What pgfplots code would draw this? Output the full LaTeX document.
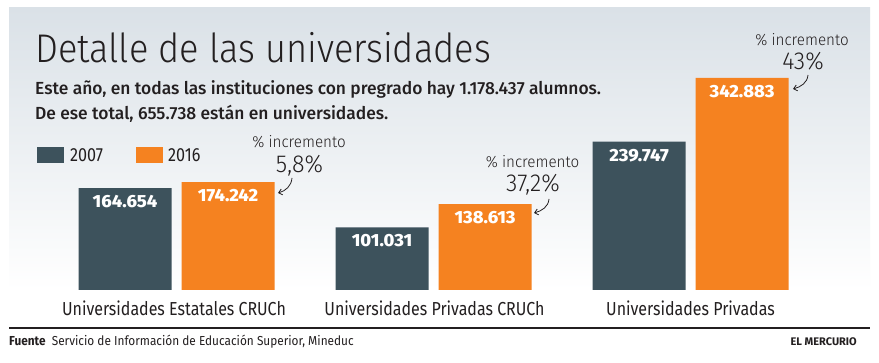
\documentclass[border=0pt]{standalone}
\usepackage{pgfplots}
\pgfplotsset{compat=1.18}
\usetikzlibrary{arrows.meta}
\usepackage{fontspec}
\setmainfont{Fira Sans}
\newfontfamily\fTitle{Fira Sans Light}[FakeStretch=0.905]
\newfontfamily\fLight{Fira Sans Light}[FakeStretch=0.95]
\newfontfamily\fSub{Fira Sans Medium}[FakeStretch=0.995]
\newfontfamily\fReg{Fira Sans}[FakeStretch=0.85]
\newfontfamily\fBold{Fira Sans ExtraBold}[FakeStretch=1.04]
\newfontfamily\fFoot{Fira Sans}[FakeStretch=0.91]
\newfontfamily\fFootB{Fira Sans}[FakeStretch=1.0]
\definecolor{slate}{HTML}{3D525C}
\definecolor{orng}{HTML}{F58220}
\definecolor{ink}{HTML}{231F20}
\definecolor{bgtop}{HTML}{DAE1E7}
\begin{document}
\begin{tikzpicture}[x=1pt,y=1pt]
\useasboundingbox (0,0) rectangle (879,363);
\fill[white] (0,0) rectangle (879,363);
\shade[top color=bgtop, bottom color=white] (9,73) rectangle (870,355);
\begin{axis}[
  at={(9pt,73pt)}, anchor=south west,
  scale only axis, width=861pt, height=282pt,
  xmin=-0.6518, xmax=2.698, ymin=0, ymax=455600,
  axis lines=none, ybar, bar width=0.3619,
  point meta=explicit symbolic,
  nodes near coords,
  every node near coord/.append style={anchor=base, yshift=-19.5pt, inner sep=0pt,
     text=white, font=\fBold\fontsize{17.6}{17.6}\selectfont},
  clip=false,
]
\addplot[fill=slate, draw=none, bar shift=-0.2004] coordinates {
  (0,164654) [164.654]
  (1,101031) [101.031]
  (2,239747) [239.747]
};
\addplot[fill=orng, draw=none, bar shift=0.2004] coordinates {
  (0,174242) [174.242]
  (1,138613) [138.613]
  (2,342883) [342.883]
};
\end{axis}
% title and subtitle
\node[anchor=base west, inner sep=0, text=ink] at (35,300) {\fTitle\fontsize{40}{40}\selectfont Detalle de las universidades};
\node[anchor=base west, inner sep=0, text=ink] at (35,268) {\fSub\fontsize{17.5}{17.5}\selectfont Este año, en todas las instituciones con pregrado hay 1.178.437 alumnos.};
\node[anchor=base west, inner sep=0, text=ink] at (35,243) {\fSub\fontsize{17.5}{17.5}\selectfont De ese total, 655.738 están en universidades.};
% legend
\fill[slate] (37,200) rectangle (64,216);
\node[anchor=base west, inner sep=0, text=ink] at (70,201) {\fReg\fontsize{19}{19}\selectfont 2007};
\fill[orng] (136,200) rectangle (163,216);
\node[anchor=base west, inner sep=0, text=ink] at (168,201) {\fReg\fontsize{19}{19}\selectfont 2016};
% category labels
\node[anchor=base, inner sep=0, text=ink] at (174,47) {\fReg\fontsize{18.8}{18.8}\selectfont Universidades Estatales CRUCh};
\node[anchor=base, inner sep=0, text=ink] at (434.5,47) {\fReg\fontsize{18.8}{18.8}\selectfont Universidades Privadas CRUCh};
\node[anchor=base, inner sep=0, text=ink] at (690.5,47) {\fReg\fontsize{18.8}{18.8}\selectfont Universidades Privadas};
% annotations
\node[anchor=base, inner sep=0, text=ink] at (299,215) {\fLight\fontsize{16}{16}\selectfont \% incremento};
\node[anchor=base, inner sep=0, text=ink] at (299.5,190) {\fLight\fontsize{24.5}{24.5}\selectfont 5,8\%};
\draw[ink, line width=0.8pt, -{Straight Barb[length=3.5pt,width=6pt]}] (292,185) to[out=-95,in=15] (278,170);
\node[anchor=base, inner sep=0, text=ink] at (532.5,195) {\fLight\fontsize{16}{16}\selectfont \% incremento};
\node[anchor=base, inner sep=0, text=ink] at (533,171) {\fLight\fontsize{24.5}{24.5}\selectfont 37,2\%};
\draw[ink, line width=0.8pt, -{Straight Barb[length=3.5pt,width=6pt]}] (549,164) to[out=-95,in=15] (534,150);
\node[anchor=base, inner sep=0, text=ink] at (802,317) {\fLight\fontsize{16}{16}\selectfont \% incremento};
\node[anchor=base, inner sep=0, text=ink] at (803,293) {\fLight\fontsize{24.5}{24.5}\selectfont 43\%};
\draw[ink, line width=0.8pt, -{Straight Barb[length=3.5pt,width=6pt]}] (808,288) to[out=-95,in=15] (793,274);
% footer
\draw[ink, line width=1.3pt] (9,35) -- (870,35);
\node[anchor=base west, inner sep=0, text=ink] at (9,17) {\fFoot\fontsize{13}{13}\selectfont\textbf{Fuente}\ \ Servicio de Información de Educación Superior, Mineduc};
\node[anchor=base east, inner sep=0, text=ink] at (857,17) {\fFootB\bfseries\fontsize{11}{11}\selectfont EL MERCURIO};
\end{tikzpicture}
\end{document}
